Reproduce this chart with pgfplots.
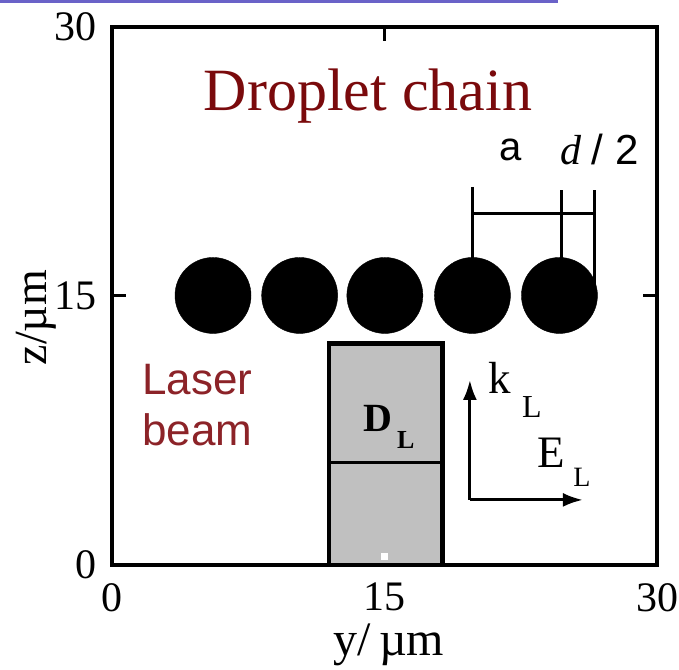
\documentclass[border=0pt]{standalone}
\usepackage{fontspec}
\setmainfont{Liberation Serif}
\newfontfamily\sansf{Liberation Sans}
\usepackage{pgfplots}
\pgfplotsset{compat=1.18}
\usetikzlibrary{arrows.meta}

\definecolor{titlered}{RGB}{122,10,12}
\definecolor{beamred}{RGB}{140,35,40}
\definecolor{beamgray}{RGB}{192,192,192}
\definecolor{barpurple}{RGB}{106,98,200}

\newcommand{\fs}[1]{\fontsize{#1}{#1}\selectfont}

\begin{document}
\begin{tikzpicture}
\begin{axis}[
  scale only axis, width=545pt, height=538pt,
  xmin=0, xmax=30, ymin=0, ymax=30,
  xtick={0,15,30}, ytick={0,15,30},
  tick align=inside, major tick length=14pt,
  axis line style={line width=3.6pt},
  tick style={line width=3pt, black},
  ticklabel style={font=\fs{42}},
  /pgf/number format/assume math mode=true,
  xticklabel style={inner sep=0pt, yshift=-18pt},
  yticklabel style={inner sep=0pt, xshift=-15pt},
  xlabel={y/\,µm}, ylabel={z/µm},
  xlabel style={at={(axis description cs:0.508,-0.1673)}, anchor=base,
                inner sep=0pt, font=\fs{48}},
  ylabel style={at={(axis description cs:-0.1193,0.46)}, anchor=base,
                inner sep=0pt, font=\fs{46}},
  clip=false,
]
% laser beam cross-section
\addplot[draw=black, fill=beamgray, line width=4.5pt]
  coordinates {(11.95,0) (11.95,12.35) (18.2,12.35) (18.2,0)} -- cycle;
\addplot[black, line width=3pt] coordinates {(11.95,5.7) (18.2,5.7)};
\addplot[only marks, mark=square*, white, mark size=3pt] coordinates {(15.0,0.5)};

% droplet chain
\addplot[only marks, mark=*, black, mark size=38pt]
  coordinates {(5.56,15.03) (10.33,15.03) (15.02,15.03) (19.84,15.03) (24.63,15.03)};

% spacing a and radius d/2
\addplot[black, line width=3pt] coordinates {(19.87,21.08) (19.87,17.0)};
\addplot[black, line width=3pt] coordinates {(24.77,20.91) (24.77,17.0)};
\addplot[black, line width=3pt] coordinates {(26.58,20.91) (26.58,15.17)};
\addplot[black, line width=3pt] coordinates {(19.87,19.58) (26.58,19.58)};

% wave vector and field direction
\addplot[black, line width=3pt, -{Latex[length=20pt,width=14pt]}]
  coordinates {(19.70,3.63) (19.70,10.32)};
\addplot[black, line width=3pt, -{Latex[length=20pt,width=14pt]}]
  coordinates {(19.70,3.63) (25.92,3.63)};

% labels
\node[anchor=base, inner sep=0pt, text=titlered, font=\fs{60}] at (axis cs:14.09,25.37) {Droplet chain};
\node[anchor=base west, inner sep=0pt, text=beamred, font=\sansf\fs{44}] at (axis cs:1.65,9.48) {Laser};
\node[anchor=base west, inner sep=0pt, text=beamred, font=\sansf\fs{44}] at (axis cs:1.65,6.64) {beam};
\node[anchor=base, inner sep=0pt, font=\sansf\fs{40}] at (axis cs:21.96,22.58) {a};
\node[anchor=base west, inner sep=0pt, font=\fs{42}] at (axis cs:24.66,22.31) {\textit{d}\ {\sansf\upshape / 2}};
\node[anchor=base west, inner sep=0pt, font=\fs{45}] at (axis cs:20.70,9.59) {k};
\node[anchor=base west, inner sep=0pt, font=\fs{32}] at (axis cs:22.57,8.25) {L};
\node[anchor=base west, inner sep=0pt, font=\fs{45}] at (axis cs:23.39,5.41) {E};
\node[anchor=base west, inner sep=0pt, font=\fs{28}] at (axis cs:25.38,4.35) {L};
\node[anchor=base west, inner sep=0pt, font=\bfseries\fs{40}] at (axis cs:13.82,7.42) {D};
\node[anchor=base west, inner sep=0pt, font=\bfseries\fs{26}] at (axis cs:15.69,6.52) {L};
\end{axis}
% header strip along the top edge
\fill[barpurple] (-112pt,562pt) rectangle (446pt,565pt);
\path[use as bounding box] (-112pt,-104pt) rectangle (567pt,565pt);
\end{tikzpicture}
\end{document}
